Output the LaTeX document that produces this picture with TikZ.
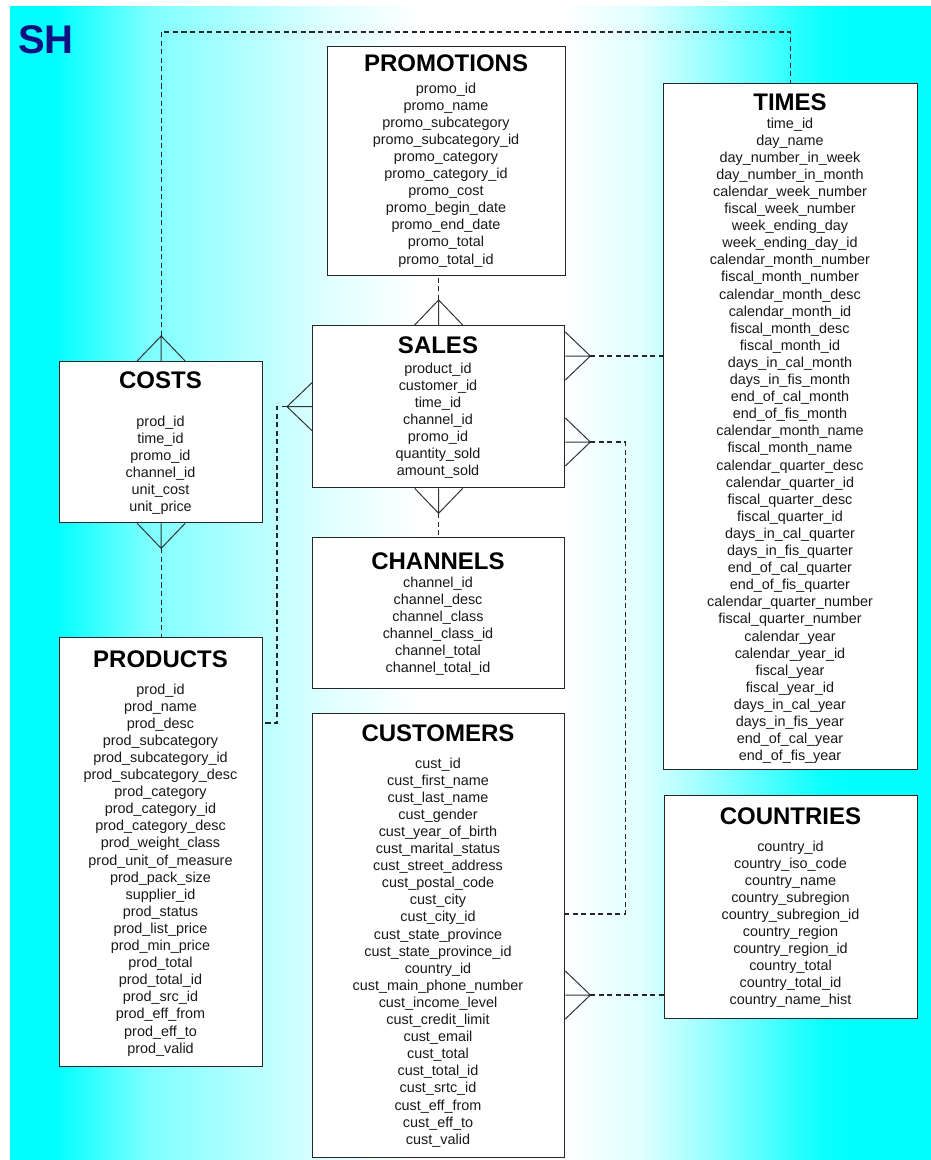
\documentclass[tikz,border=0pt]{standalone}
\usepackage{fontspec}
\setmainfont{Liberation Sans}
\usepackage{xcolor}
\usetikzlibrary{calc}

\definecolor{shnavy}{RGB}{16,16,128}
\pgfdeclarehorizontalshading{shbg}{100bp}{color(0bp)=(cyan); color(27.4bp)=(cyan); color(32.6bp)=(cyan!50!white); color(42.4bp)=(cyan!12!white); color(47.3bp)=(white); color(54.9bp)=(white); color(59.2bp)=(cyan!12!white); color(62.5bp)=(cyan!37!white); color(69bp)=(cyan!95!white); color(70.6bp)=(cyan); color(100bp)=(cyan)}

\begin{document}
\begin{tikzpicture}[x=0.75pt,y=0.75pt,yscale=-1,xscale=1,
  tbl/.style={draw=black!85, line width=1pt, fill=white, inner sep=0pt, anchor=north west},
  ttl/.style={anchor=base, inner sep=0pt, font=\bfseries\fontsize{18}{20}\selectfont},
  fld/.style={anchor=base, inner sep=0pt, text=black!90, font=\fontsize{10.8}{12.8}\selectfont},
  rel/.style={draw=black!85, line width=0.9pt, dash pattern=on 3.8pt off 2.6pt},
  foot/.style={draw=black!80, line width=0.75pt},
  crowfoot/.pic={\draw[foot] (0,-24) -- (25,0) -- (0,24) (0,0) -- (25,0);}]
\useasboundingbox (0,0) rectangle (931,1160);

%Background
\fill[white] (0,0) rectangle (931,1160);
\shade[shading=shbg] (10,6) rectangle (931,1160);
% Text Node
\node[anchor=base west, inner sep=0pt, text=shnavy, font=\bfseries\fontsize{30}{32}\selectfont] (sh) at (18,53) {SH};

%Table: PROMOTIONS
\node[tbl, minimum width=238*0.75pt, minimum height=229*0.75pt] (promotions) at (327,46) {};
\node[ttl] (promotions-t) at (446,71.5) {PROMOTIONS};
\foreach \f [count=\i from 0] in {promo\_id, promo\_name, promo\_subcategory, promo\_subcategory\_id, promo\_category, promo\_category\_id, promo\_cost, promo\_begin\_date, promo\_end\_date, promo\_total, promo\_total\_id}
  \node[fld] (promotions-\i) at (446,93+17.1*\i) {\f};

%Table: TIMES
\node[tbl, minimum width=254*0.75pt, minimum height=686*0.75pt] (times) at (663,83) {};
\node[ttl] (times-t) at (790,110.5) {TIMES};
\foreach \f [count=\i from 0] in {time\_id, day\_name, day\_number\_in\_week, day\_number\_in\_month, calendar\_week\_number, fiscal\_week\_number, week\_ending\_day, week\_ending\_day\_id, calendar\_month\_number, fiscal\_month\_number, calendar\_month\_desc, calendar\_month\_id, fiscal\_month\_desc, fiscal\_month\_id, days\_in\_cal\_month, days\_in\_fis\_month, end\_of\_cal\_month, end\_of\_fis\_month, calendar\_month\_name, fiscal\_month\_name, calendar\_quarter\_desc, calendar\_quarter\_id, fiscal\_quarter\_desc, fiscal\_quarter\_id, days\_in\_cal\_quarter, days\_in\_fis\_quarter, end\_of\_cal\_quarter, end\_of\_fis\_quarter, calendar\_quarter\_number, fiscal\_quarter\_number, calendar\_year, calendar\_year\_id, fiscal\_year, fiscal\_year\_id, days\_in\_cal\_year, days\_in\_fis\_year, end\_of\_cal\_year, end\_of\_fis\_year}
  \node[fld] (times-\i) at (790,128+17.1*\i) {\f};

%Table: COSTS
\node[tbl, minimum width=203*0.75pt, minimum height=161*0.75pt] (costs) at (59,361) {};
\node[ttl] (costs-t) at (160.5,388.5) {COSTS};
\foreach \f [count=\i from 0] in {prod\_id, time\_id, promo\_id, channel\_id, unit\_cost, unit\_price}
  \node[fld] (costs-\i) at (160.5,426+17.1*\i) {\f};

%Table: SALES
\node[tbl, minimum width=252*0.75pt, minimum height=162*0.75pt] (sales) at (312,325) {};
\node[ttl] (sales-t) at (438,353.5) {SALES};
\foreach \f [count=\i from 0] in {product\_id, customer\_id, time\_id, channel\_id, promo\_id, quantity\_sold, amount\_sold}
  \node[fld] (sales-\i) at (438,373+17.1*\i) {\f};

%Table: CHANNELS
\node[tbl, minimum width=252*0.75pt, minimum height=151*0.75pt] (channels) at (312,537) {};
\node[ttl] (channels-t) at (438,569.5) {CHANNELS};
\foreach \f [count=\i from 0] in {channel\_id, channel\_desc, channel\_class, channel\_class\_id, channel\_total, channel\_total\_id}
  \node[fld] (channels-\i) at (438,587+17.1*\i) {\f};

%Table: PRODUCTS
\node[tbl, minimum width=203*0.75pt, minimum height=429*0.75pt] (products) at (59,637) {};
\node[ttl] (products-t) at (160.5,667.5) {PRODUCTS};
\foreach \f [count=\i from 0] in {prod\_id, prod\_name, prod\_desc, prod\_subcategory, prod\_subcategory\_id, prod\_subcategory\_desc, prod\_category, prod\_category\_id, prod\_category\_desc, prod\_weight\_class, prod\_unit\_of\_measure, prod\_pack\_size, supplier\_id, prod\_status, prod\_list\_price, prod\_min\_price, prod\_total, prod\_total\_id, prod\_src\_id, prod\_eff\_from, prod\_eff\_to, prod\_valid}
  \node[fld] (products-\i) at (160.5,694+17.1*\i) {\f};

%Table: CUSTOMERS
\node[tbl, minimum width=252*0.75pt, minimum height=444*0.75pt] (customers) at (312,713) {};
\node[ttl] (customers-t) at (438,741.5) {CUSTOMERS};
\foreach \f [count=\i from 0] in {cust\_id, cust\_first\_name, cust\_last\_name, cust\_gender, cust\_year\_of\_birth, cust\_marital\_status, cust\_street\_address, cust\_postal\_code, cust\_city, cust\_city\_id, cust\_state\_province, cust\_state\_province\_id, country\_id, cust\_main\_phone\_number, cust\_income\_level, cust\_credit\_limit, cust\_email, cust\_total, cust\_total\_id, cust\_srtc\_id, cust\_eff\_from, cust\_eff\_to, cust\_valid}
  \node[fld] (customers-\i) at (438,768+17.1*\i) {\f};

%Table: COUNTRIES
\node[tbl, minimum width=253*0.75pt, minimum height=223*0.75pt] (countries) at (664,795) {};
\node[ttl] (countries-t) at (790.5,824.5) {COUNTRIES};
\foreach \f [count=\i from 0] in {country\_id, country\_iso\_code, country\_name, country\_subregion, country\_subregion\_id, country\_region, country\_region\_id, country\_total, country\_total\_id, country\_name\_hist}
  \node[fld] (countries-\i) at (790.5,851+17.1*\i) {\f};

%Link: COSTS -- TIMES
\pic[rotate=90] at (costs.north) {crowfoot};
\coordinate (costs-up) at ($(costs.north)+(0,-25)$);
\draw[rel] (costs-up) -- ++(0,-304) -| (times.north);
%Link: COSTS -- PRODUCTS
\pic[rotate=-90] at (costs.south) {crowfoot};
\coordinate (costs-down) at ($(costs.south)+(0,25)$);
\draw[rel] (costs-down) -- (products.north);
%Link: SALES -- PRODUCTS
\pic[rotate=180] at (sales.west) {crowfoot};
\coordinate (sales-l) at ($(sales.west)+(-25,0)$);
\coordinate (products-r) at ($(products.north east)+(0,86)$);
\draw[rel] (sales-l) -- ++(-10,0) |- (products-r);
%Link: SALES -- PROMOTIONS
\pic[rotate=90] at (sales.north) {crowfoot};
\coordinate (sales-up) at ($(sales.north)+(0,-25)$);
\draw[rel] (sales-up) -- (sales-up |- promotions.south);
%Link: SALES -- CHANNELS
\pic[rotate=-90] at (sales.south) {crowfoot};
\coordinate (sales-down) at ($(sales.south)+(0,25)$);
\draw[rel] (sales-down) -- (channels.north);
%Link: SALES -- TIMES
\coordinate (sales-r1) at ($(sales.north east)+(0,31)$);
\pic at (sales-r1) {crowfoot};
\coordinate (sales-r1x) at ($(sales-r1)+(25,0)$);
\draw[rel] (sales-r1x) -- (sales-r1x -| times.west);
%Link: SALES -- CUSTOMERS
\coordinate (sales-r2) at ($(sales.north east)+(0,117)$);
\pic at (sales-r2) {crowfoot};
\coordinate (sales-r2x) at ($(sales-r2)+(25,0)$);
\coordinate (customers-r1) at ($(customers.north east)+(0,201)$);
\draw[rel] (sales-r2x) -- ++(35,0) |- (customers-r1);
%Link: CUSTOMERS -- COUNTRIES
\coordinate (customers-r2) at ($(customers.north east)+(0,282)$);
\pic at (customers-r2) {crowfoot};
\coordinate (customers-r2x) at ($(customers-r2)+(25,0)$);
\draw[rel] (customers-r2x) -- (customers-r2x -| countries.west);

\end{tikzpicture}
\end{document}
